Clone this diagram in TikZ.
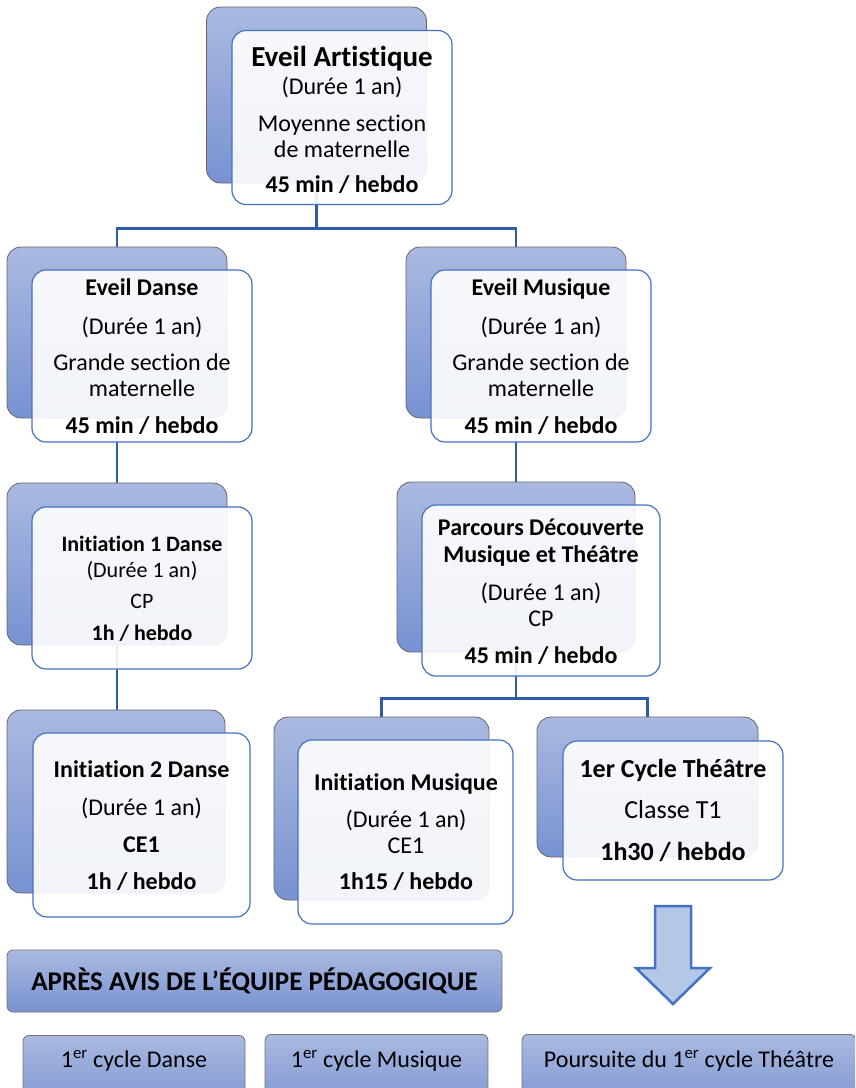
\documentclass[tikz,border=0pt]{standalone}
\usepackage{fontspec}
\setmainfont{Carlito}[Ligatures=NoCommon]
\usetikzlibrary{backgrounds}
\definecolor{cardtop}{HTML}{AAB9E0}
\definecolor{cardbot}{HTML}{7892D1}
\definecolor{cardline}{HTML}{4472C4}
\definecolor{linkblue}{HTML}{2F5BAA}
\definecolor{arrowfill}{HTML}{B4C7E7}
\tikzset{
cardback/.style={rectangle, rounded corners=14pt, draw=black!60, line width=0.8pt,
  top color=cardtop, bottom color=cardbot, minimum width=220pt, minimum height=176pt},
cardfront/.style={rectangle, rounded corners=14pt, draw=cardline, line width=1.2pt,
  fill=white, fill opacity=0.9, minimum width=220pt, minimum height=174pt},
txt/.style={align=center, inner sep=0pt, font=\fontsize{24}{26}\selectfont},
link/.style={draw=linkblue, line width=2.2pt},
bar/.style={rectangle, rounded corners=6pt, draw=black!55, line width=0.8pt,
  top color=cardtop, bottom color=cardbot}}

\begin{document}
\begin{tikzpicture}[x=1pt,y=-1pt]
  \clip (0,0) rectangle (855,1088);

  % cards: back, front, text
  \node[cardback] (artB) at (316.5,95) {};
  \node[cardfront] (art) at (342,117.5) {};
  \node[txt] (artT) at (342,120) {{\bfseries\fontsize{29}{26}\selectfont Eveil Artistique}\\[2pt]
    (Durée 1 an)\\[11pt] Moyenne section\\ de maternelle\\[9pt] \textbf{45 min / hebdo}};

  \node[cardback, minimum height=171pt] (danB) at (117,332.5) {};
  \node[cardfront, minimum height=172pt] (dan) at (142,356) {};
  \node[txt] (danT) at (142,356.5) {\textbf{Eveil Danse}\\[13pt] (Durée 1 an)\\[10pt]
    Grande section de\\ maternelle\\[11pt] \textbf{45 min / hebdo}};

  \node[cardback, minimum height=171pt] (musB) at (516,332.5) {};
  \node[cardfront, minimum height=172pt] (mus) at (541,356) {};
  \node[txt] (musT) at (541,356.5) {\textbf{Eveil Musique}\\[13pt] (Durée 1 an)\\[10pt]
    Grande section de\\ maternelle\\[11pt] \textbf{45 min / hebdo}};

  \node[cardback, minimum height=162pt] (iniB) at (117,564) {};
  \node[cardfront, minimum height=162pt] (ini) at (142,588) {};
  \node[txt, font=\fontsize{22}{24}\selectfont] (iniT) at (142,588.5) {\textbf{Initiation 1 Danse}\\[2pt]
    (Durée 1 an)\\[7pt] CP\\[8pt] \textbf{1h / hebdo}};

  \node[cardback, minimum width=238pt, minimum height=170pt] (parB) at (516,567) {};
  \node[cardfront, minimum width=238pt, minimum height=171pt] (par) at (541,590.5) {};
  \node[txt] (parT) at (541,591.5) {\textbf{Parcours Découverte}\\[1pt] \textbf{Musique et Théâtre}\\[12pt]
    (Durée 1 an)\\ CP\\[11pt] \textbf{45 min / hebdo}};

  \node[cardback, minimum width=218pt, minimum height=183pt] (in2B) at (116,801.5) {};
  \node[cardfront, minimum width=217pt, minimum height=184pt] (in2) at (141.5,825) {};
  \node[txt] (in2T) at (141.5,826) {\textbf{Initiation 2 Danse}\\[12pt] (Durée 1 an)\\[11pt]
    \textbf{CE1}\\[11pt] \textbf{1h / hebdo}};

  \node[cardback, minimum width=215pt, minimum height=183pt] (imuB) at (381.5,808.5) {};
  \node[cardfront, minimum width=215pt, minimum height=184pt] (imu) at (405.5,832) {};
  \node[txt] (imuT) at (406,832.5) {\textbf{Initiation Musique}\\[11pt] (Durée 1 an)\\ CE1\\[10pt]
    \textbf{1h15 / hebdo}};

  \node[cardback, minimum width=221pt, minimum height=140pt] (theB) at (647.5,787) {};
  \node[cardfront, minimum width=220pt, minimum height=139pt] (the) at (673,810.5) {};
  \node[txt, font=\fontsize{26}{28}\selectfont] (theT) at (673,810.5) {\textbf{1er Cycle Théâtre}\\[13pt]
    Classe T1\\[14pt] \textbf{1h30 / hebdo}};

  % connectors
  \begin{scope}[on background layer]
    \draw[link] (artB.south) -- ++(0,45) coordinate (j1) -| (danB.north);
    \draw[link] (j1) -| (musB.north);
    \draw[link] (danB.south) -- (iniB.north);
    \draw[link] (iniB.south) -- (iniB.south |- in2B.north);
    \draw[link] (musB.south) -- (parB.north);
    \draw[link] (parB.south) -- ++(0,46) coordinate (j2) -| (imuB.north);
    \draw[link] (j2) -| (theB.north);
  \end{scope}

  % big arrow
  \draw[draw=cardline, fill=arrowfill, line width=2.5pt, line join=miter]
    (655,906) -- (691,906) -- (691,968) -- (710,968) -- (673,1004)
    -- (636,968) -- (655,968) -- cycle;

  % bottom bars
  \node[bar, minimum width=495pt, minimum height=62pt,
    font=\fontsize{27}{28}\selectfont\bfseries] (avis) at (254.5,981) {APRÈS AVIS DE L’ÉQUIPE PÉDAGOGIQUE};
  \node[bar, anchor=north, minimum width=222pt, minimum height=80pt] (cdan) at (134,1035) {};
  \node[bar, anchor=north, minimum width=223pt, minimum height=80pt] (cmus) at (376.5,1034) {};
  \node[bar, anchor=north, minimum width=334pt, minimum height=80pt] (cthe) at (689,1034) {};
  \node[txt] (cdanT) at (134,1061) {1\textsuperscript{er} cycle Danse};
  \node[txt] (cmusT) at (376.5,1061) {1\textsuperscript{er} cycle Musique};
  \node[txt] (ctheT) at (689,1061) {Poursuite du 1\textsuperscript{er} cycle Théâtre};
\end{tikzpicture}
\end{document}
